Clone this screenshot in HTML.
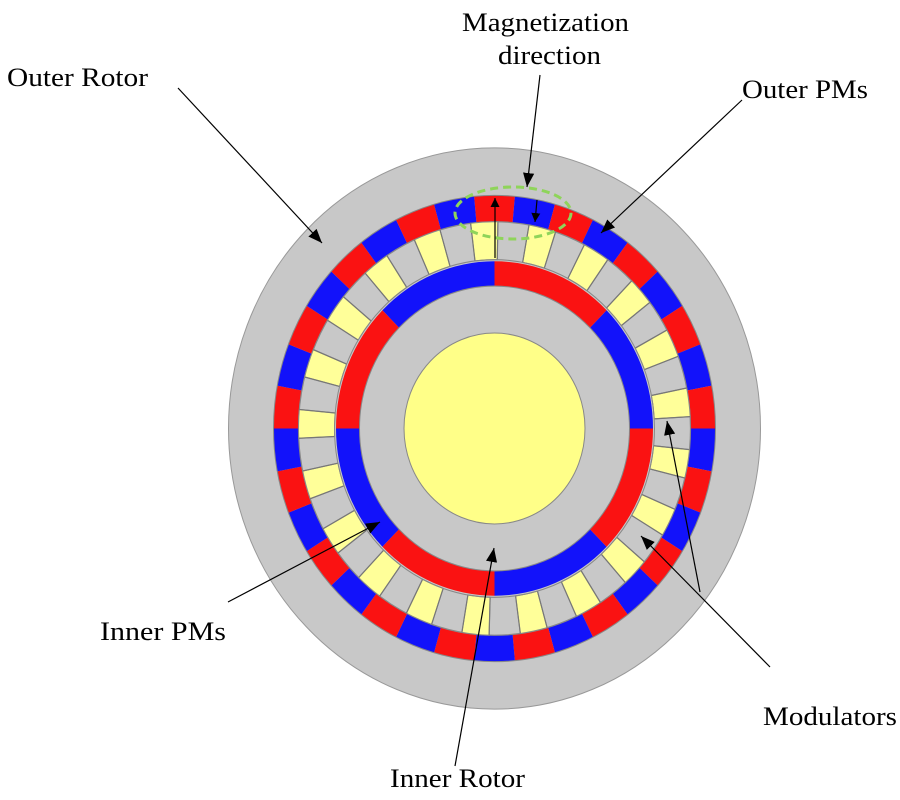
<!DOCTYPE html>
<html><head><meta charset="utf-8"><style>html,body{margin:0;padding:0;background:#fff}svg{display:block}</style></head>
<body>
<svg id="s" width="900" height="800" viewBox="0 0 900 800" xmlns="http://www.w3.org/2000/svg">
<defs><marker id="ah" viewBox="0 0 10 10" refX="10" refY="5" markerWidth="9" markerHeight="9" markerUnits="userSpaceOnUse" orient="auto"><path d="M0,0 L10,5 L0,10 z" fill="#000"/></marker>
<marker id="ah2" viewBox="0 0 10 10" refX="10" refY="5" markerWidth="14" markerHeight="14" markerUnits="userSpaceOnUse" orient="auto"><path d="M0,1 L10,5 L0,9 z" fill="#000"/></marker></defs>
<g id="motor" transform="translate(494.5,428.5) scale(1,1.055)"></g>
<ellipse cx="513" cy="213" rx="58" ry="26" fill="none" stroke="#8fd45a" stroke-width="3" stroke-dasharray="8,5"/>
<line x1="495" y1="258" x2="495" y2="198" stroke="#000" stroke-width="1.2" marker-end="url(#ah)"/>
<line x1="537" y1="200" x2="535" y2="222" stroke="#000" stroke-width="1.2" marker-end="url(#ah)"/>
<g stroke="#000" stroke-width="1.2" fill="none">
<line x1="178" y1="88" x2="322" y2="243" marker-end="url(#ah2)"/>
<line x1="540" y1="75" x2="527" y2="187" marker-end="url(#ah2)"/>
<line x1="742" y1="100" x2="601" y2="233" marker-end="url(#ah2)"/>
<line x1="770" y1="667" x2="641" y2="536" marker-end="url(#ah2)"/>
<line x1="700" y1="592" x2="667" y2="421" marker-end="url(#ah2)"/>
<line x1="228" y1="602" x2="380" y2="522" marker-end="url(#ah2)"/>
<line x1="455" y1="766" x2="494" y2="548" marker-end="url(#ah2)"/>
</g>
<g style="font-family:'Liberation Serif',serif" font-size="26" fill="#000">
<text x="7" y="86" textLength="141" lengthAdjust="spacingAndGlyphs">Outer Rotor</text>
<text x="462" y="31" textLength="167" lengthAdjust="spacingAndGlyphs">Magnetization</text>
<text x="498" y="64" textLength="103" lengthAdjust="spacingAndGlyphs">direction</text>
<text x="742" y="98" textLength="126" lengthAdjust="spacingAndGlyphs">Outer PMs</text>
<text x="100" y="640" textLength="126" lengthAdjust="spacingAndGlyphs">Inner PMs</text>
<text x="763" y="725" textLength="134" lengthAdjust="spacingAndGlyphs">Modulators</text>
<text x="390" y="787" textLength="135" lengthAdjust="spacingAndGlyphs">Inner Rotor</text>
</g>
</svg>
<script>
var g=document.getElementById('motor'),NS='http://www.w3.org/2000/svg';
var RED='#fa1212',BLUE='#1212fa';
function el(t,a){var e=document.createElementNS(NS,t);for(var k in a)e.setAttribute(k,a[k]);g.appendChild(e);return e;}
function P(r,d){var a=d*Math.PI/180;return [r*Math.cos(a),-r*Math.sin(a)];}
function seg(r1,r2,a1,a2,fill,stroke){var p1=P(r2,a1),p2=P(r2,a2),p3=P(r1,a2),p4=P(r1,a1);var lg=(a2-a1)>180?1:0;
var d='M'+p1+' A'+r2+','+r2+' 0 '+lg+' 0 '+p2+' L'+p3+' A'+r1+','+r1+' 0 '+lg+' 1 '+p4+'Z';
el('path',{d:d,fill:fill,stroke:stroke||'none','stroke-width':1});}
el('circle',{r:266,fill:'#c8c8c8',stroke:'#999','stroke-width':1});
var w=360/34;
for(var k=0;k<34;k++){var c=90-k*w;seg(196,221,c-w/2,c+w/2,k%2==0?RED:BLUE);}
el('circle',{r:221,fill:'none',stroke:'#888','stroke-width':1});
el('circle',{r:196,fill:'none',stroke:'#888','stroke-width':1.2});
var m=360/21;
for(var k=0;k<21;k++){var c=93-k*m;seg(160,196,c-4,c+4,'#ffff99','#888');
var p=P(160,c-4),q=P(196,c-4);el('line',{x1:p[0],y1:p[1],x2:q[0],y2:q[1],stroke:'#777','stroke-width':1.2});
p=P(160,c+4);q=P(196,c+4);el('line',{x1:p[0],y1:p[1],x2:q[0],y2:q[1],stroke:'#777','stroke-width':1.2});}
el('circle',{r:160,fill:'none',stroke:'#888','stroke-width':1});
for(var j=0;j<8;j++){seg(135,158.5,j*45,(j+1)*45,j%2==1?RED:BLUE);}
el('circle',{r:135,fill:'#c8c8c8',stroke:'#888','stroke-width':1});
el('circle',{r:90.5,fill:'#ffff88',stroke:'#888','stroke-width':1});
</script>
</body></html>
